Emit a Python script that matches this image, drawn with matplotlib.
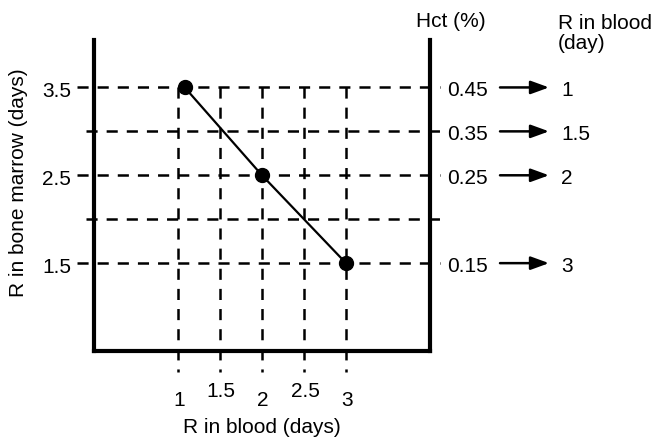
import matplotlib
matplotlib.use("Agg")
import matplotlib.pyplot as plt

plt.rcParams['font.family'] = ['Liberation Sans', 'DejaVu Sans']
plt.rcParams['lines.scale_dashes'] = False

# Reticulocyte maturation data
blood_days = [1.08, 2.0, 3.0]
marrow_days = [3.5, 2.5, 1.5]

x_grid = [1, 1.5, 2, 2.5, 3]
x_labels = ["1", "1.5", "2", "2.5", "3"]
x_label_low = [True, False, True, False, True]
y_grid = [3.5, 3.0, 2.5, 2.0, 1.5]
y_labeled = [3.5, 2.5, 1.5]
y_labels = ["3.5", "2.5", "1.5"]

hct_levels = [3.5, 3.0, 2.5, 1.5]
hct_values = ["0.45", "0.35", "0.25", "0.15"]
blood_correction = ["1", "1.5", "2", "3"]

FS = 15
DASH = (0, (8, 6.5))
PT = 0.72  # points per pixel at 100 dpi

XMIN, XMAX = 0, 4
YMIN, YMAX = 0.5, 4.04

fig = plt.figure(figsize=(6.64, 4.40), dpi=100)
ax = fig.add_axes([94 / 664, 89 / 440, 336 / 664, 311 / 440])
ax.set_xlim(XMIN, XMAX)
ax.set_ylim(YMIN, YMAX)

for s in ["left", "bottom", "right"]:
    ax.spines[s].set_linewidth(3)
    ax.spines[s].set_color("black")
ax.spines["top"].set_visible(False)
ax.set_xticks([])
ax.set_yticks([])

# horizontal data units per pixel of the axes box
X_PER_PX = (XMAX - XMIN) / 336


def label(text, xy, dx, dy, **kw):
    """Place text at an offset (in pixels) from a data point."""
    ax.annotate(text, xy=xy, xycoords="data", xytext=(dx * PT, -dy * PT),
                textcoords="offset points", fontsize=FS,
                annotation_clip=False, **kw)


# Horizontal dashed guides
for y in y_grid:
    x0 = -0.2 if y in y_labeled else -0.095
    ax.plot([x0, 4.12], [y, y], color="black", lw=1.8, linestyle=DASH,
            clip_on=False, zorder=2)

# Vertical dashed guides
for x in x_grid:
    ax.plot([x, x], [3.5, 0.26], color="black", lw=1.8, linestyle=DASH,
            clip_on=False, zorder=2)

# Data line and points
ax.plot(blood_days, marrow_days, color="black", lw=1.6, zorder=3)
ax.plot(blood_days, marrow_days, "o", color="black", ms=10, zorder=4)

# Left tick labels
for y, lab in zip(y_labeled, y_labels):
    label(lab, (XMIN, y), -23, 9.5, ha="right", va="baseline")

# Bottom tick labels (staggered)
for x, lab, low in zip(x_grid, x_labels, x_label_low):
    label(lab, (x, YMIN), 1, 54.5 if low else 46, ha="center", va="baseline")

label("R in blood (days)", (2.0, YMIN), 0, 82, ha="center", va="baseline")
ax.annotate("R in bone marrow (days)", xy=(XMIN, 2.5),
            xytext=(-70 * PT, -7.5 * PT), textcoords="offset points",
            fontsize=FS, rotation=90, rotation_mode="anchor",
            ha="center", va="baseline", annotation_clip=False)

# Right-hand Hct conversion with arrows
arrow_x0 = XMAX + 70 * X_PER_PX
arrow_x1 = XMAX + 119 * X_PER_PX
for y, h, b in zip(hct_levels, hct_values, blood_correction):
    label(h, (XMAX, y), 17, 8.5, ha="left", va="baseline")
    ax.annotate("", xy=(arrow_x1, y), xytext=(arrow_x0, y),
                xycoords="data", textcoords="data", annotation_clip=False,
                arrowprops=dict(arrowstyle="-|>,head_length=1.1,head_width=0.4",
                                color="black", lw=1.8, shrinkA=0, shrinkB=0))
    label(b, (XMAX, y), 131, 8.5, ha="left", va="baseline")

label("Hct (%)", (XMAX, YMAX), -14, 27 - 40, ha="left", va="baseline")
label("R in blood", (XMAX, YMAX), 128, 29 - 40, ha="left", va="baseline")
label("(day)", (XMAX, YMAX), 128, 49 - 40, ha="left", va="baseline")

fig.savefig("out.png", dpi=100)
